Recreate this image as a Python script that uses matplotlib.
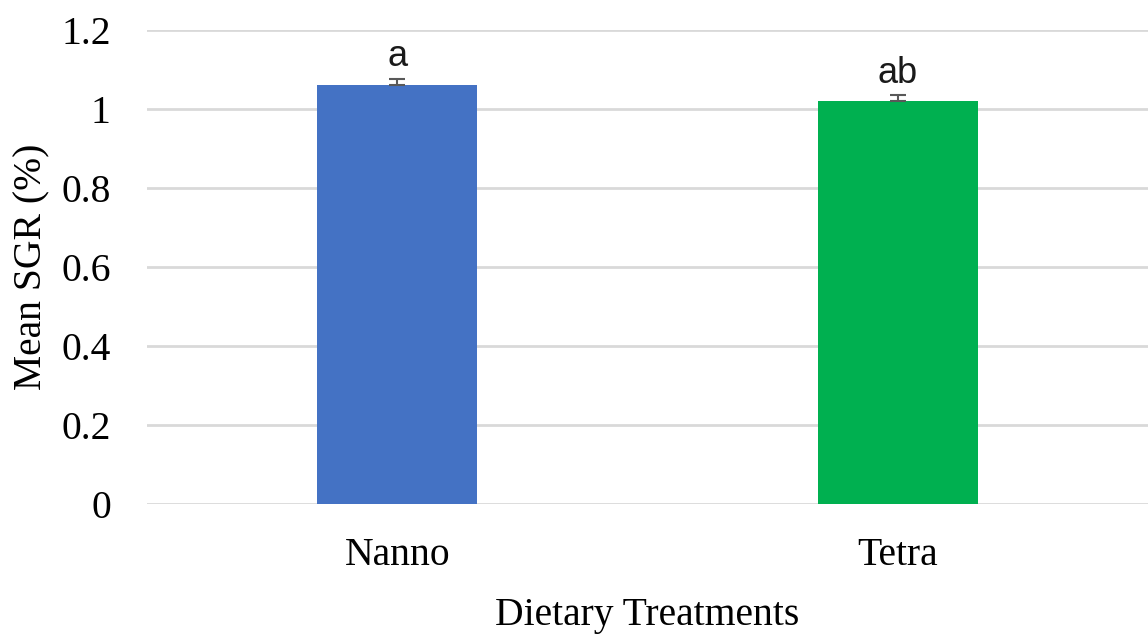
import matplotlib.pyplot as plt

# Mean specific growth rate for each diet
treatments = ['Nanno', 'Tetra']
mean_sgr = [1.06, 1.02]
sgr_err = [0.016, 0.015]
letters = ['a', 'ab']
bar_colors = ['#4472C4', '#00B050']

fig = plt.figure(figsize=(11.48, 6.42), dpi=100)
ax = fig.add_axes([0.128, 0.215, 0.872, 0.738])

x = list(range(len(treatments)))
ax.bar(x, mean_sgr, width=0.32, color=bar_colors, zorder=2)
ax.errorbar(x, mean_sgr, yerr=[[0] * len(sgr_err), sgr_err], fmt='none',
            ecolor='#595959', elinewidth=1.5, capsize=5.5, capthick=1.5, zorder=3)

# significance letters above the error bars
for xi, m, e, lab in zip(x, mean_sgr, sgr_err, letters):
    ax.text(xi, m + e + 0.012, lab, ha='center', va='bottom',
            fontsize=26, family='Liberation Sans', color='#1a1a1a')

ax.set_xlim(-0.5, 1.5)
ax.set_ylim(0, 1.2)
ax.set_yticks([0, 0.2, 0.4, 0.6, 0.8, 1.0, 1.2])
ax.set_yticklabels(['0', '0.2', '0.4', '0.6', '0.8', '1', '1.2'])
ax.set_xticks(x)
ax.set_xticklabels(treatments)
ax.yaxis.grid(True, color='#d9d9d9', linewidth=2, zorder=0)
ax.set_axisbelow(True)
ax.tick_params(axis='y', length=0, labelsize=28.5, pad=26)
ax.tick_params(axis='x', length=0, labelsize=28.5, pad=24)
for lbl in ax.get_xticklabels() + ax.get_yticklabels():
    lbl.set_family('Liberation Serif')
for s in ax.spines.values():
    s.set_visible(False)

ax.set_ylabel('Mean SGR (%)', fontsize=28.5, family='Liberation Serif', labelpad=8)
ax.set_xlabel('Dietary Treatments', fontsize=28.5, family='Liberation Serif', labelpad=16)

fig.savefig('out.png', dpi=100)
